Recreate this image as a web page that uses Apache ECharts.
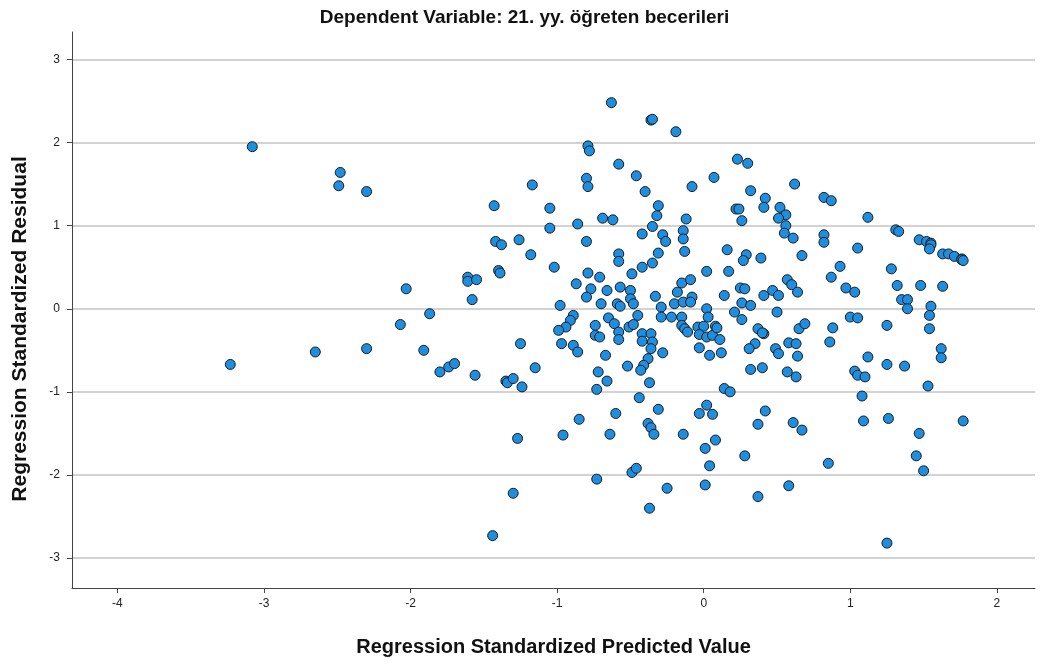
<!DOCTYPE html>
<html>
<head>
<meta charset="utf-8">
<script src="https://cdn.jsdelivr.net/npm/echarts@6/dist/echarts.min.js"></script>
<style>
  html, body { margin: 0; padding: 0; background: #fff; }
  #chart { width: 1049px; height: 664px; }
</style>
</head>
<body>
<div id="chart"></div>
<script>
const titleText = 'Dependent Variable: 21. yy. öğreten becerileri';
const xName = 'Regression Standardized Predicted Value';
const yName = 'Regression Standardized Residual';
const xTicks = [-4, -3, -2, -1, 0, 1, 2];
const yTicks = [-3, -2, -1, 0, 1, 2, 3];

const predicted = [
  -3.08, -2.48, -2.49, -2.30, -1.17, -1.43, -1.42, -1.38, -1.26, -1.18, -1.40, -1.39,
  -1.61, -1.61, -1.55, -2.03, -1.58, -1.87, -2.07, -3.23, -2.65, -2.30, -1.91, -1.80,
  -1.74, -1.70, -1.56, -1.35, -1.34, -1.30, -1.24, -1.25, -1.15, -1.27, -1.30, -1.44,
  -0.63, -0.36, -0.35, -0.19, -0.79, -0.78, -0.58, -0.46, -0.40, -0.80, -0.79, -0.08,
  -1.05, -1.05, -0.86, -0.69, -0.62, -0.31, -0.32, -0.35, -0.42, -0.28, -0.26, -0.12,
  -0.14, -0.14, -0.80,
  0.23, 0.30, 0.07, 0.32, 0.62, 0.42, 0.41, 0.22, 0.24, 0.26, 0.52, 0.56,
  0.51, 0.56, 0.55, 0.61, 0.82, 0.87, 0.82, 0.82,
  1.12, 1.31, 1.33, 1.47, 1.52, 1.55, 1.55, 1.54, 1.63, 1.67, 1.71, 1.76,
  1.76, 1.77, 1.05, 0.93, 0.87, 1.28, 1.32, 1.48, 1.63, 0.97, 1.03, 1.35,
  1.39, 1.39, 1.55, 1.54, 1.00, 1.05, 0.88, 1.25, 1.54, 0.86, 1.62, 1.62,
  1.12, 1.25, 1.37, 1.03, 1.05, 1.10, 1.53, 1.08, 1.09, 1.26, 1.77, 1.47,
  1.45, 1.50, 0.85, 1.25,
  -0.58, -0.58, -1.02, -0.42, -0.35, -0.31, -0.13, -0.49, -0.79, -0.71, -0.87, -0.77,
  -0.80, -0.66, -0.57, -0.50, -0.50, -0.48, -0.70, -0.59, -0.57, -0.98, -0.33, -0.29,
  -0.29, -0.45, -0.65, -0.61, -0.51, -0.48, -0.89, -0.91, -0.94, -0.99, -0.74, -0.74,
  -0.71, -0.58, -0.58, -0.42, -0.36, -0.42, -0.35, -0.36, -0.22, -0.15, -0.15, -0.13,
  -0.20, -0.14, -0.18, -0.15, -0.97, -0.89, -0.86, -0.67, -0.28, -0.38, -0.41, -0.43,
  -0.52, -0.72, -0.66, -0.73, -0.37, -0.44,
  -0.31, -0.85, -0.60, -0.96, -0.64, -0.38, -0.36, -0.34, -0.14, -0.73, -0.49, -0.46,
  -0.25, -0.37,
  0.16, 0.29, 0.27, 0.39, 0.67, 0.02, 0.17, -0.09, -0.08, -0.09, 0.25, 0.28,
  0.14, 0.26, 0.32, 0.41, 0.47, 0.51, 0.57, 0.60, 0.64, 0.50, 0.21, 0.26,
  0.02, 0.03, -0.11, -0.04, 0.00, -0.03, 0.02, 0.06, 0.08, 0.09, 0.11, -0.03,
  0.04, 0.12, 0.37, 0.41, 0.40, 0.35, 0.31, 0.49, 0.51, 0.58, 0.63, 0.64,
  0.65, 0.69, 0.32, 0.40, 0.57, 0.63, 0.14, 0.18,
  0.02, -0.03, 0.06, 0.42, 0.37, 0.61, 0.67, 0.08, 0.01, 0.28, 0.04, 0.01,
  0.58, 0.37
];

const residual = [
  1.95, 1.64, 1.48, 1.41, 1.49, 1.24, 0.81, 0.77, 0.83, 0.65, 0.46, 0.43,
  0.38, 0.33, 0.35, 0.24, 0.11, -0.06, -0.19, -0.67, -0.52, -0.48, -0.50, -0.76,
  -0.70, -0.66, -0.80, -0.87, -0.89, -0.84, -0.94, -0.42, -0.71, -1.56, -2.22, -2.73,
  2.48, 2.27, 2.28, 2.13, 1.96, 1.90, 1.74, 1.60, 1.41, 1.57, 1.47, 1.47,
  1.21, 0.97, 1.02, 1.09, 1.07, 1.24, 1.12, 0.99, 0.90, 0.89, 0.81, 1.08,
  0.94, 0.84, 0.81,
  1.80, 1.75, 1.58, 1.42, 1.50, 1.33, 1.22, 1.20, 1.20, 1.06, 1.22, 1.13,
  1.09, 1.00, 0.91, 0.85, 1.34, 1.30, 0.89, 0.80,
  1.10, 0.95, 0.93, 0.83, 0.81, 0.79, 0.77, 0.72, 0.66, 0.66, 0.63, 0.60,
  0.59, 0.58, 0.73, 0.51, 0.38, 0.48, 0.28, 0.28, 0.27, 0.25, 0.20, 0.11,
  0.11, 0.00, 0.03, -0.08, -0.10, -0.11, -0.23, -0.20, -0.24, -0.40, -0.48, -0.59,
  -0.58, -0.67, -0.69, -0.75, -0.80, -0.82, -0.93, -1.05, -1.35, -1.32, -1.35, -1.50,
  -1.77, -1.95, -1.86, -2.82,
  0.66, 0.57, 0.50, 0.50, 0.55, 0.67, 0.69, 0.42, 0.43, 0.38, 0.30, 0.24,
  0.14, 0.22, 0.26, 0.22, 0.12, 0.06, 0.06, 0.06, 0.03, 0.04, 0.15, 0.02,
  -0.10, -0.08, -0.11, -0.18, -0.22, -0.19, -0.08, -0.14, -0.22, -0.26, -0.20, -0.32,
  -0.34, -0.28, -0.37, -0.30, -0.30, -0.39, -0.40, -0.48, -0.10, -0.10, -0.20, -0.24,
  0.06, 0.08, 0.20, 0.31, -0.42, -0.44, -0.52, -0.56, -0.53, -0.60, -0.68, -0.74,
  -0.69, -0.76, -0.87, -0.97, -0.89, -1.07,
  -1.21, -1.33, -1.26, -1.52, -1.51, -1.38, -1.43, -1.51, -1.51, -2.05, -1.97, -1.92,
  -2.16, -2.40,
  0.71, 0.65, 0.58, 0.61, 0.64, 0.45, 0.45, 0.35, 0.14, 0.08, 0.25, 0.24,
  0.16, 0.07, 0.04, 0.16, 0.22, 0.16, 0.35, 0.29, 0.20, -0.04, -0.04, -0.13,
  0.00, -0.10, -0.28, -0.22, -0.21, -0.31, -0.34, -0.32, -0.21, -0.23, -0.37, -0.47,
  -0.56, -0.53, -0.24, -0.30, -0.29, -0.42, -0.48, -0.48, -0.54, -0.41, -0.42, -0.57,
  -0.24, -0.18, -0.73, -0.71, -0.76, -0.82, -0.96, -1.00,
  -1.16, -1.26, -1.27, -1.23, -1.39, -1.37, -1.46, -1.58, -1.68, -1.77, -1.89, -2.12,
  -2.13, -2.26
];

const points = predicted.map((x, i) => [x, residual[i]]);

const chart = echarts.init(document.getElementById('chart'));

const fontFamily = 'Liberation Sans, Arial, sans-serif';

chart.setOption({
  animation: false,
  title: {
    text: titleText,
    left: 'center',
    top: 3,
    textStyle: { fontFamily: fontFamily, fontSize: 19, fontWeight: 'bold', color: '#111' }
  },
  grid: { left: 72, right: 14, top: 32, bottom: 76 },
  xAxis: {
    type: 'value',
    min: -4.31,
    max: 2.26,
    name: xName,
    nameLocation: 'middle',
    nameGap: 49,
    nameTextStyle: { fontFamily: fontFamily, fontSize: 20, fontWeight: 'bold', color: '#111' },
    axisLine: { onZero: false, lineStyle: { color: '#444', width: 1 } },
    axisTick: { show: true, length: 5, customValues: xTicks, lineStyle: { color: '#444' } },
    axisLabel: { customValues: xTicks, margin: 10, fontFamily: fontFamily, fontSize: 12, color: '#222' },
    splitLine: { show: false }
  },
  yAxis: {
    type: 'value',
    min: -3.36,
    max: 3.33,
    name: yName,
    nameLocation: 'middle',
    nameGap: 41,
    nameTextStyle: { fontFamily: fontFamily, fontSize: 21, fontWeight: 'bold', color: '#111', padding: [0, 38, 0, 0] },
    axisLine: { show: true, onZero: false, lineStyle: { color: '#444', width: 1 } },
    axisTick: { show: true, length: 5, customValues: yTicks, lineStyle: { color: '#444' } },
    axisLabel: { customValues: yTicks, margin: 12, fontFamily: fontFamily, fontSize: 12, color: '#222' },
    splitLine: { show: true, lineStyle: { color: '#d2d2d2', width: 2 } }
  },
  series: [{
    type: 'scatter',
    data: points,
    symbol: 'circle',
    symbolSize: 10,
    itemStyle: { color: '#1e8fe0', borderColor: '#1a1a1a', borderWidth: 1, opacity: 1 }
  }]
});
</script>
</body>
</html>
